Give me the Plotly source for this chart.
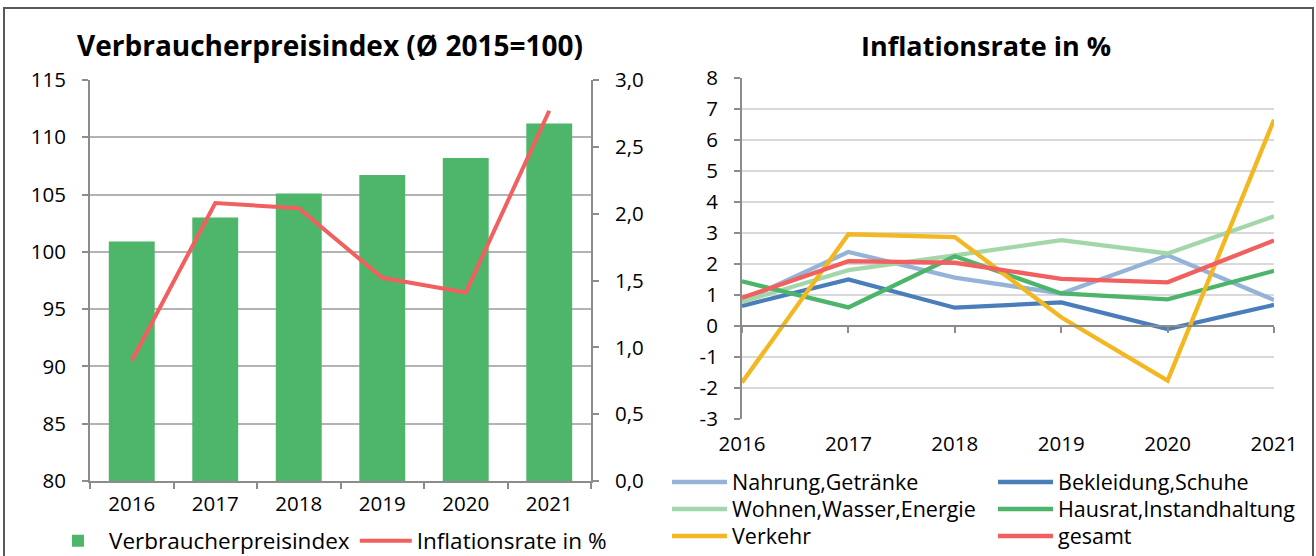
import plotly.graph_objects as go

# ---------------- data ----------------
years = ["2016", "2017", "2018", "2019", "2020", "2021"]
years_num = [2016, 2017, 2018, 2019, 2020, 2021]

vpi_index = [100.9, 103.0, 105.1, 106.7, 108.2, 111.2]
vpi_rate = [0.90, 2.08, 2.04, 1.52, 1.41, 2.77]

nahrung = [0.80, 2.39, 1.56, 1.05, 2.28, 0.84]
bekleidung = [0.65, 1.50, 0.59, 0.76, -0.10, 0.68]
wohnen = [0.78, 1.80, 2.28, 2.77, 2.34, 3.54]
hausrat = [1.44, 0.60, 2.25, 1.05, 0.86, 1.78]
verkehr = [-1.82, 2.96, 2.87, 0.28, -1.76, 6.65]
gesamt = [0.91, 2.09, 2.04, 1.52, 1.41, 2.76]

rate_ticks = [-3, -2, -1, 0, 1, 2, 3, 4, 5, 6, 7, 8]
rate_tick_labels = ["-3", "-2", "-1", "0", "1", "2", "3", "4", "5", "6", "7", "8"]

right_series = [
    ("Nahrung,Getränke", nahrung, "#95B3D7", "legend2"),
    ("Bekleidung,Schuhe", bekleidung, "#4A7EBB", "legend2"),
    ("Wohnen,Wasser,Energie", wohnen, "#A3D7AA", "legend3"),
    ("Hausrat,Instandhaltung", hausrat, "#4DB56A", "legend3"),
    ("Verkehr", verkehr, "#F2B721", "legend4"),
    ("gesamt", gesamt, "#F25F5F", "legend4"),
]

W, H = 1316, 556
FONT = "Open Sans"
AX = "#8C8C8C"


def px(x):
    return x / W


def py(y):
    return (H - y) / H


fig = go.Figure()

# ---------------- left chart ----------------
fig.add_trace(go.Bar(
    x=years, y=vpi_index, name="Verbraucherpreisindex",
    marker=dict(color="#4EB66B", line=dict(width=0)),
    xaxis="x", yaxis="y", legend="legend",
))
fig.add_trace(go.Scatter(
    x=years, y=vpi_rate, name="Inflationsrate in %", mode="lines",
    line=dict(color="#F25F5F", width=4),
    xaxis="x", yaxis="y2", legend="legend",
))

# ---------------- right chart ----------------
for name, vals, col, lg in right_series:
    fig.add_trace(go.Scatter(
        x=years_num, y=vals, name=name, mode="lines",
        line=dict(color=col, width=4.3),
        xaxis="x3", yaxis="y3", legend=lg,
    ))

# helper trace for the zero-crossing category axis
fig.add_trace(go.Scatter(
    x=years_num, y=[None] * len(years_num), mode="lines",
    xaxis="x4", yaxis="y3", showlegend=False, hoverinfo="skip",
))

tickfont = dict(family=FONT, size=20.5, color="black")
legfont = dict(family=FONT, size=21.5, color="black")


def row_legend(x, y):
    return dict(
        orientation="h", x=px(x), y=py(y), xanchor="left", yanchor="middle",
        font=legfont, itemwidth=55, bgcolor="rgba(0,0,0,0)",
        entrywidth=256, entrywidthmode="pixels",
    )


fig.update_layout(
    template="none",
    width=W, height=H,
    margin=dict(l=0, r=0, t=0, b=0, autoexpand=False),
    paper_bgcolor="white", plot_bgcolor="white",
    separators=",.",
    font=dict(family=FONT, size=20, color="black"),
    bargap=0.45,
    xaxis=dict(
        domain=[px(90), px(591)], anchor="y", type="category",
        range=[-0.5, 5.5], showgrid=False, showline=True, linecolor=AX,
        linewidth=2, ticks="outside", tickson="boundaries", ticklen=6,
        tickcolor=AX, tickwidth=2, tickfont=tickfont, ticklabelstandoff=3,
        automargin=False,
    ),
    yaxis=dict(
        domain=[py(481), py(80)], anchor="x", range=[80, 115], dtick=5,
        showgrid=True, gridcolor="#B3B3B3", gridwidth=2, showline=True,
        linecolor=AX, linewidth=2, ticks="outside", ticklen=6, tickcolor=AX,
        tickwidth=2, tickfont=tickfont, zeroline=False, ticklabelstandoff=12,
        automargin=False,
    ),
    yaxis2=dict(
        overlaying="y", side="right", anchor="x", range=[0, 3], dtick=0.5,
        tickformat=".1f", showgrid=False, showline=True, linecolor=AX,
        linewidth=2, ticks="outside", ticklen=6, tickcolor=AX, tickwidth=2,
        tickfont=tickfont, zeroline=False, ticklabelstandoff=12,
        automargin=False,
    ),
    xaxis3=dict(
        domain=[px(742), px(1274)], anchor="y3", range=[2016, 2021],
        tickvals=years_num, ticktext=years, showgrid=False, showline=False,
        ticks="", tickfont=tickfont, zeroline=False, ticklabelstandoff=10,
        automargin=False,
    ),
    xaxis4=dict(
        overlaying="x3", matches="x3", anchor="free",
        position=py(326), range=[2016, 2021], tickvals=years_num,
        showticklabels=False, showgrid=False, showline=True, linecolor=AX,
        linewidth=2, ticks="outside", ticklen=6, tickcolor=AX, tickwidth=2,
        zeroline=False, automargin=False,
    ),
    yaxis3=dict(
        domain=[py(419), py(78)], anchor="x3", range=[-3, 8],
        tickvals=rate_ticks, ticktext=rate_tick_labels,
        showgrid=True, gridcolor="#D9D9D9", gridwidth=2, showline=True,
        linecolor=AX, linewidth=2, ticks="outside", ticklen=6, tickcolor=AX,
        tickwidth=2, tickfont=tickfont, zeroline=False, ticklabelstandoff=12,
        automargin=False,
    ),
    legend=dict(
        orientation="h", x=px(47), y=py(541), xanchor="left",
        yanchor="middle", font=dict(family=FONT, size=22.5, color="black"),
        itemwidth=52, bgcolor="rgba(0,0,0,0)", traceorder="normal",
    ),
    legend2=row_legend(667, 482),
    legend3=row_legend(667, 509),
    legend4=row_legend(667, 536),
    annotations=[
        dict(text="<b>Verbraucherpreisindex (Ø 2015=100)</b>", x=px(330),
             y=py(45), xref="paper", yref="paper", showarrow=False,
             xanchor="center", yanchor="middle",
             font=dict(family=FONT, size=28, color="black")),
        dict(text="<b>Inflationsrate in %</b>", x=px(986), y=py(45),
             xref="paper", yref="paper", showarrow=False, xanchor="center",
             yanchor="middle", font=dict(family=FONT, size=27, color="black")),
    ],
    shapes=[
        dict(type="rect", xref="paper", yref="paper", x0=px(4), x1=px(1313),
             y0=-0.05, y1=py(8), line=dict(color="#595959", width=2),
             fillcolor="rgba(0,0,0,0)", layer="below"),
    ],
    showlegend=True,
)

fig.write_html("out.html", config={"displayModeBar": False},
               post_script="document.body.style.margin='0';")
